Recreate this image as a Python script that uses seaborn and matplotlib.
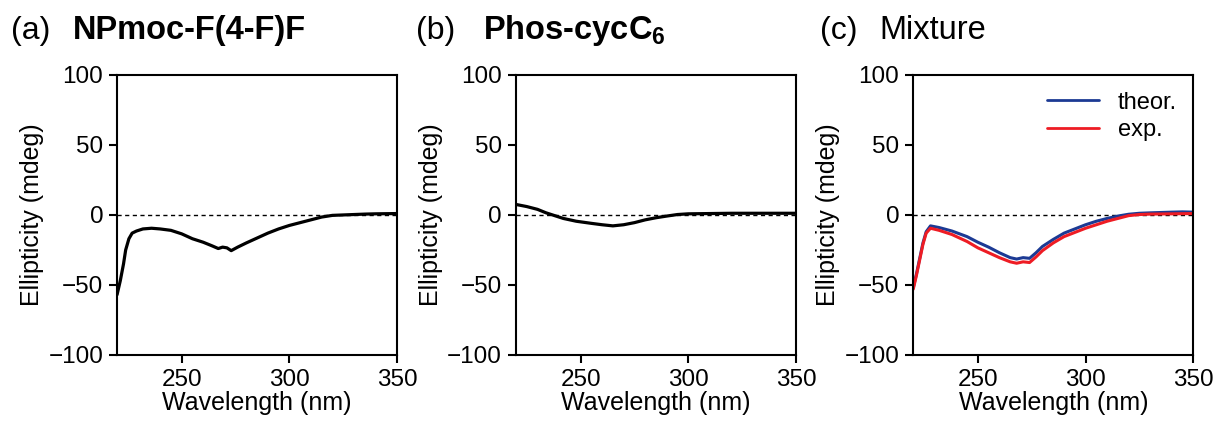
import matplotlib
matplotlib.use("Agg")
import matplotlib.pyplot as plt
import seaborn as sns
import pandas as pd

# ---------------- data ----------------
wl_a = [220, 221.5, 223, 224, 225.5, 227, 229, 232, 236, 240, 245, 250, 255, 260,
        264, 267, 269, 271, 273, 276, 280, 285, 290, 295, 300, 305, 310, 315, 320,
        325, 330, 335, 340, 345, 350]
cd_a = [-57, -47, -35, -25, -17, -13, -11.5, -10, -9.5, -10, -11, -13.5, -17, -19.5,
        -22, -24, -23, -23.5, -25.5, -23, -20, -16.5, -13, -10, -7.5, -5.5, -3.5, -1.5, -0.3,
        0, 0.3, 0.6, 0.8, 0.9, 1]

wl_b = [220, 225, 230, 234, 238, 242, 248, 255, 260, 265, 270, 275, 280, 285, 290,
        295, 300, 310, 320, 330, 340, 350]
cd_b = [7.5, 6, 4, 1.5, -0.5, -2.5, -4.5, -6, -7, -7.8, -7, -5.5, -3.5, -2, -0.8,
        0.3, 0.8, 1, 1.2, 1.2, 1.2, 1.2]

wl_c = [220, 221.5, 223, 224.5, 226, 228, 232, 238, 245, 250, 255, 260, 265, 268,
        271, 274, 277, 280, 285, 290, 295, 300, 305, 310, 315, 320, 325, 330, 340, 345, 350]
cd_exp = [-53, -43, -32, -21, -13, -9.5, -11, -14, -19, -23.5, -27, -30.5, -33.5, -34.5,
          -33.5, -34, -30, -25.5, -20, -15.5, -12.5, -9.5, -7, -4.5, -2.5, -0.5, 0.3, 0.6, 0.8, 0.9, 1]
cd_theor = [-52, -42, -31, -20, -12, -7.8, -9, -11.5, -15.5, -19.5, -23, -27, -30.5, -31.5,
            -30.5, -31, -27, -22.5, -17.5, -13, -10, -7, -4.5, -2.5, -0.8, 0.5, 1.2, 1.5, 2, 2.2, 2]

xticks = [250, 300, 350]
yticks = [-100, -50, 0, 50, 100]
panel_letters = ["(a)", "(b)", "(c)"]
panel_names = ["NPmoc-F(4-F)F", r"Phos-cycC$_\mathbf{6}$", "Mixture"]
legend_labels = ["theor.", "exp."]

# ---------------- style ----------------
sns.set_style("ticks")
plt.rcParams["font.family"] = ["Liberation Sans", "DejaVu Sans"]
plt.rcParams["mathtext.fontset"] = "custom"
plt.rcParams["mathtext.rm"] = "Liberation Sans"
plt.rcParams["mathtext.bf"] = "Liberation Sans:bold"
for k in ["text.color", "axes.labelcolor", "xtick.color", "ytick.color", "axes.edgecolor"]:
    plt.rcParams[k] = "black"
plt.rcParams["axes.linewidth"] = 1.5
plt.rcParams["xtick.major.width"] = 1.5
plt.rcParams["ytick.major.width"] = 1.5
plt.rcParams["xtick.major.size"] = 6
plt.rcParams["ytick.major.size"] = 6

fig = plt.figure(figsize=(12.27, 4.36), dpi=100)
lefts = [0.0954, 0.4205, 0.7443]
w = 0.2282
bottom = 0.186
h = 0.642
axes = [fig.add_axes([l, bottom, w, h]) for l in lefts]

df_a = pd.DataFrame({"wl": wl_a, "cd": cd_a})
df_b = pd.DataFrame({"wl": wl_b, "cd": cd_b})
df_c = pd.DataFrame({"wl": wl_c * 2, "cd": cd_theor + cd_exp,
                     "kind": [legend_labels[0]] * len(wl_c) + [legend_labels[1]] * len(wl_c)})

sns.lineplot(data=df_a, x="wl", y="cd", ax=axes[0], color="black", lw=2.3)
sns.lineplot(data=df_b, x="wl", y="cd", ax=axes[1], color="black", lw=2.3)
sns.lineplot(data=df_c, x="wl", y="cd", hue="kind", ax=axes[2],
             palette={legend_labels[0]: "#1c3a94", legend_labels[1]: "#ee1c24"}, lw=2.2)

for i, ax in enumerate(axes):
    ax.axhline(0, color="black", lw=1.0, ls=(0, (3, 2.5)), zorder=0)
    ax.set_xlim(220, 350)
    ax.set_ylim(-100, 100)
    ax.set_xticks(xticks)
    ax.set_yticks(yticks)
    ax.tick_params(labelsize=17.5, direction="out", pad=4)
    ax.set_xlabel("Wavelength (nm)", fontsize=18, labelpad=0)
    ax.set_ylabel("Ellipticity (mdeg)", fontsize=18, labelpad=3)
    for s in ax.spines.values():
        s.set_visible(True)
        s.set_linewidth(1.5)

leg = axes[2].legend(loc="upper right", frameon=False, fontsize=17, handlelength=2.2,
                     handletextpad=0.8, borderaxespad=0.3, labelspacing=0.25)
for line in leg.get_lines():
    line.set_linewidth(2.0)

letter_x = [0.009, 0.339, 0.668]
name_x = [0.059, 0.394, 0.717]
for lx, nx, lt, nm, bold in zip(letter_x, name_x, panel_letters, panel_names, [True, True, False]):
    fig.text(lx, 0.93, lt, fontsize=23, va="center", ha="left")
    fig.text(nx, 0.93, nm, fontsize=23.5, va="center", ha="left",
             fontweight="bold" if bold else "normal")

fig.savefig("out.png", dpi=100)
